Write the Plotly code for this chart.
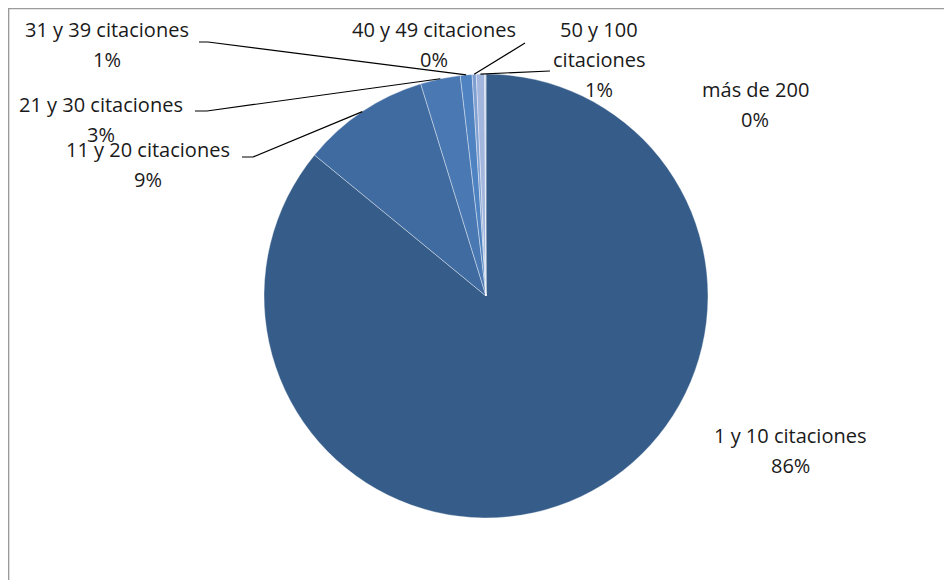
import math
import plotly.graph_objects as go

# ---- data ----
categories = ["1 y 10 citaciones", "11 y 20 citaciones", "21 y 30 citaciones",
              "31 y 39 citaciones", "40 y 49 citaciones", "50 y 100 citaciones",
              "más de 200"]
values = [85.95, 9.3, 2.9, 0.85, 0.3, 0.6, 0.1]
label_lines = [["1 y 10 citaciones"], ["11 y 20 citaciones"], ["21 y 30 citaciones"],
               ["31 y 39 citaciones"], ["40 y 49 citaciones"], ["50 y 100", "citaciones"],
               ["más de 200"]]
colors = ["#365D8A", "#3F6BA1", "#4A78B3", "#4F82C0", "#7F9FD0", "#A2B6DE", "#C7D4EC"]

# ---- layout constants (pixels in the reference picture) ----
W, H = 952, 580
OFF = 8  # page body margin
CX, CY, R = 486, 296, 222
label_pos = [(790, 435), (148, 150), (101, 104), (107, 29), (434, 29), (599, 29), (755, 90)]
LINE_GAP = 30
leader_start = [None, [(242, 157), (253, 157)], [(195, 111), (207, 111)],
                [(199, 42), (208, 42)], [(525, 43)], [(550, 71)], None]

px = lambda x: (x - OFF) / W
py = lambda y: 1 - (y - OFF) / H

total = sum(values)
fig = go.Figure(go.Pie(
    labels=categories, values=values, sort=False, direction="clockwise", rotation=0,
    marker=dict(colors=colors, line=dict(color="rgba(255,255,255,0.55)", width=0.7)),
    textinfo="none", hoverinfo="label+percent", showlegend=False,
    domain=dict(x=[px(CX - R), px(CX + R)], y=[py(CY + R), py(CY - R)]),
))

annotations = []
shapes = []
cum = 0.0
for i, v in enumerate(values):
    mid = (cum + v / 2) / total * 2 * math.pi
    cum += v
    lines = label_lines[i] + [f"{round(v / total * 100)}%"]
    lx, ly = label_pos[i]
    for k, t in enumerate(lines):
        annotations.append(dict(x=px(lx), y=py(ly + k * LINE_GAP), xref="paper", yref="paper",
                                text=t, showarrow=False, xanchor="center", yanchor="middle",
                                font=dict(family="Open Sans", size=20, color="#1a1a1a")))
    if leader_start[i]:
        ex = CX + R * math.sin(mid)
        ey = CY - R * math.cos(mid)
        pts = leader_start[i] + [(ex, ey)]
        path = "M " + " L ".join(f"{px(x)},{py(y)}" for x, y in pts)
        shapes.append(dict(type="path", xref="paper", yref="paper", path=path,
                           line=dict(color="black", width=1.2)))

# chart frame
shapes.append(dict(type="rect", xref="paper", yref="paper", x0=0.6 / W, x1=1.02,
                   y0=-0.02, y1=1 - 0.6 / H, line=dict(color="#9a9a9a", width=1.5)))

fig.update_layout(width=W, height=H, margin=dict(l=0, r=0, t=0, b=0),
                  paper_bgcolor="white", plot_bgcolor="white",
                  annotations=annotations, shapes=shapes)
fig.write_html("out.html")
